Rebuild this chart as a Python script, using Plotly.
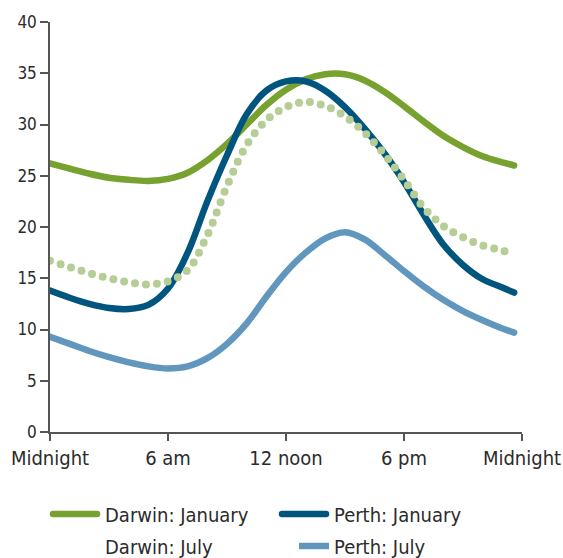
import plotly.graph_objects as go

hours = [0, 1, 2, 3, 4, 5, 6, 7, 8, 9, 10, 11, 12, 13, 14, 15, 16, 17, 18, 19, 20, 21, 22, 23, 23.6]
darwin_jan = [26.2, 25.7, 25.2, 24.8, 24.6, 24.5, 24.7, 25.3, 26.5, 28.1, 30.0, 31.9, 33.4, 34.4, 34.9, 34.9, 34.3, 33.2, 31.8, 30.3, 28.9, 27.8, 26.9, 26.3, 26.0]
perth_jan = [13.8, 13.1, 12.5, 12.1, 12.0, 12.4, 14.0, 17.5, 22.5, 27.0, 31.0, 33.3, 34.2, 34.2, 33.3, 31.7, 29.6, 27.2, 24.4, 21.2, 18.3, 16.3, 14.9, 14.1, 13.6]
darwin_jul = [16.7, 16.1, 15.5, 15.0, 14.6, 14.4, 14.7, 15.8, 19.2, 24.0, 28.0, 30.4, 31.7, 32.2, 31.8, 30.8, 29.2, 27.1, 24.6, 21.9, 20.1, 19.0, 18.2, 17.7, 17.3]
perth_jul = [9.3, 8.6, 7.9, 7.3, 6.8, 6.4, 6.2, 6.4, 7.2, 8.6, 10.6, 13.2, 15.6, 17.5, 18.9, 19.5, 18.8, 17.3, 15.7, 14.2, 12.9, 11.8, 10.9, 10.1, 9.7]

tick_vals = [0, 6, 12, 18, 24]
tick_text = ["Midnight", "6 am", "12 noon", "6 pm", "Midnight"]

FONT = "DejaVu Sans Condensed, DejaVu Sans"
TXT = "#2b2b2b"

fig = go.Figure()
fig.add_trace(go.Scatter(x=hours, y=darwin_jan, name="Darwin: January", mode="lines", legend="legend",
                         line=dict(color="#78a22f", width=6.5, shape="spline", smoothing=1.0)))
fig.add_trace(go.Scatter(x=hours, y=perth_jan, name="Perth: January", mode="lines", legend="legend",
                         line=dict(color="#00557f", width=6.5, shape="spline", smoothing=1.0)))
fig.add_trace(go.Scatter(x=hours, y=darwin_jul, name="Darwin: July", mode="lines", legend="legend2",
                         line=dict(color="#b6ce95", width=8, shape="spline", smoothing=1.0,
                                   dash="0px,11px")))
fig.add_trace(go.Scatter(x=hours, y=perth_jul, name="Perth: July", mode="lines", legend="legend2",
                         line=dict(color="#6197bd", width=6.5, shape="spline", smoothing=1.0)))

leg_common = dict(orientation="h", xanchor="left", xref="container",
                  yanchor="middle", yref="container",
                  entrywidth=184, font=dict(family=FONT, size=20, color=TXT),
                  itemwidth=30, bgcolor="rgba(0,0,0,0)")

fig.update_layout(
    width=563, height=558,
    margin=dict(l=50, r=41, t=22, b=126),
    plot_bgcolor="white", paper_bgcolor="white",
    font=dict(family=FONT, size=17, color=TXT),
    showlegend=True,
    legend=dict(x=45 / 563, y=0.0789, **leg_common),
    legend2=dict(x=65 / 563, y=0.0215, **leg_common),
    xaxis=dict(range=[0, 24], tickvals=tick_vals, ticktext=tick_text, automargin=False,
               showgrid=False, zeroline=False, showline=True, linecolor="#555555", linewidth=1.5,
               ticks="outside", ticklen=7, tickcolor="#555555", tickwidth=1.5,
               tickfont=dict(family=FONT, size=20, color=TXT)),
    yaxis=dict(range=[0, 40], dtick=5, showgrid=False, zeroline=False, automargin=False,
               showline=True, linecolor="#555555", linewidth=1.5,
               ticks="outside", ticklen=8, tickcolor="#555555", tickwidth=1.5,
               tickfont=dict(family=FONT, size=17, color=TXT)),
)

post = """
document.body.style.margin = '0';
var gd = document.getElementById('{plot_id}');
function fixCaps(){
  gd.querySelectorAll('.scatterlayer path.js-line').forEach(function(p){
    if (p.style.strokeLinecap !== 'round') { p.style.strokeLinecap = 'round'; p.style.strokeLinejoin = 'round'; }
  });
  var leg = gd.querySelector('g.legend');
  if (leg) {
    leg.querySelectorAll('g.traces').forEach(function(t){
      var p = t.querySelector('path.js-line');
      if (p && p.getAttribute('d') !== 'M8,0h44') { p.setAttribute('d', 'M8,0h44'); p.style.strokeLinecap = 'round'; }
      var tx = t.querySelector('text.legendtext');
      if (tx && tx.getAttribute('x') !== '60') { tx.setAttribute('x', '60'); }
    });
  }
}
fixCaps();
gd.on('plotly_afterplot', fixCaps);
"""
fig.write_html("out.html", post_script=post, config={"displayModeBar": False})
